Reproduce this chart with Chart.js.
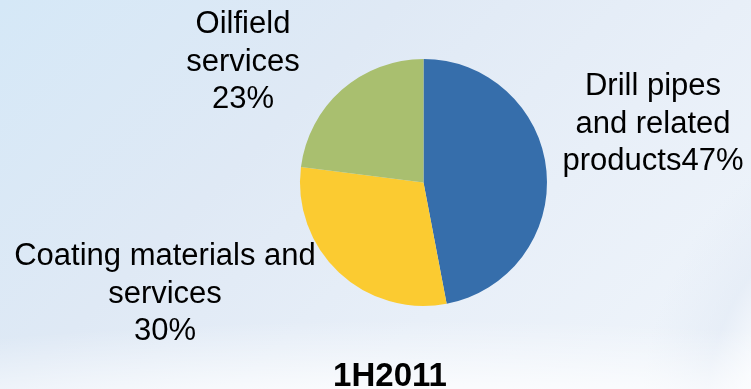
<!DOCTYPE html>
<html>
<head>
<meta charset="utf-8">
<script src="https://cdn.jsdelivr.net/npm/chart.js@4/dist/chart.umd.min.js"></script>
<style>
  html, body { margin: 0; padding: 0; }
  body {
    width: 751px; height: 389px; overflow: hidden;
    background:
      radial-gradient(ellipse 900px 150px at 420px 470px, rgba(255,255,255,0.75) 55%, rgba(255,255,255,0) 100%),
      radial-gradient(ellipse 260px 300px at 900px 420px, rgba(246,249,253,0.9) 60%, rgba(226,234,245,0.6) 75%, rgba(255,255,255,0) 100%),
      linear-gradient(135deg, #d5e8f7 0%, #dfe9f5 35%, #e8eff8 65%, #f0f5fb 100%);
  }
  canvas { display: block; }
</style>
</head>
<body>
<canvas id="graph" width="751" height="389"></canvas>
<script>
// segment split for 1H2011
const categories = [
    ["Drill pipes", "and related", "products"],
    ["Coating materials and", "services"],
    ["Oilfield", "services"]
];
const shares = [47, 30, 23];
const colours = ["#366eab", "#fbcb31", "#a9bf6f"];
const periodLabel = "1H2011";

// where each label block sits (centre x, first baseline y)
const labelSpots = [
    {x: 653, y: 95},
    {x: 165, y: 265},
    {x: 243, y: 33}
];

const pieLabels = {
    id: "pieLabels",
    afterDraw(chart) {
        const ctx = chart.ctx;
        ctx.save();
        ctx.fillStyle = "#000";
        ctx.textAlign = "center";
        ctx.textBaseline = "alphabetic";
        ctx.font = "31px 'Liberation Sans', Arial, sans-serif";
        chart.data.datasets[0].data.forEach((v, i) => {
            let lines = categories[i].slice();
            // the first category keeps its percent on the last word
            if (i === 0) lines[lines.length - 1] += v + "%";
            else lines.push(v + "%");
            lines.forEach((t, j) => ctx.fillText(t, labelSpots[i].x, labelSpots[i].y + j * 37.5));
        });
        ctx.font = "bold 33px 'Liberation Sans', Arial, sans-serif";
        ctx.fillText(periodLabel, 390, 386);
        ctx.restore();
    }
};

new Chart("graph", {
    type: "pie",
    data: {
        labels: categories.map(c => c.join(" ")),
        datasets: [{
            data: shares,
            backgroundColor: colours,
            borderWidth: 0
        }]
    },
    options: {
        responsive: false,
        animation: false,
        layout: {padding: {left: 300, right: 204, top: 59, bottom: 83}},
        plugins: {
            legend: {display: false},
            tooltip: {enabled: false}
        }
    },
    plugins: [pieLabels]
});
</script>
</body>
</html>
